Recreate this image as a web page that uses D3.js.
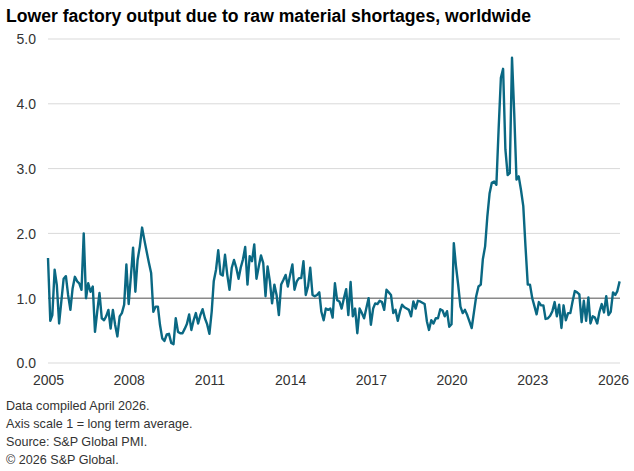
<!DOCTYPE html>
<html>
<head>
<meta charset="utf-8">
<script src="https://cdn.jsdelivr.net/npm/d3@7"></script>
<style>
	body { margin: 0; background: #fff; }
	svg text { font-family: "Liberation Sans", Arial, sans-serif; }
</style>
</head>
<body>
<svg id="chart" width="634" height="471"></svg>
<script>
var title = "Lower factory output due to raw material shortages, worldwide";
var notes = [
	"Data compiled April 2026.",
	"Axis scale 1 = long term average.",
	"Source: S&P Global PMI.",
	"\u00a9 2026 S&P Global."
];
var startYear = 2005;
var yTicks = [0, 1, 2, 3, 4, 5];
var xTickYears = [2005, 2008, 2011, 2014, 2017, 2020, 2023, 2026];

// monthly index, one row per year from Jan 2005
var v2005 = [1.62, 0.65, 0.74, 1.44, 1.2, 0.61, 0.95, 1.3, 1.34, 1.05, 0.82, 1.15];
var v2006 = [1.33, 1.26, 1.23, 1.13, 2.0, 1.0, 1.23, 1.1, 1.18, 0.48, 0.8, 1.08];
var v2007 = [0.69, 0.66, 0.72, 0.82, 0.53, 0.82, 0.59, 0.41, 0.72, 0.77, 0.9, 1.52];
var v2008 = [0.91, 1.35, 1.78, 1.1, 1.59, 1.8, 2.09, 1.9, 1.72, 1.55, 1.39, 0.79];
var v2009 = [0.87, 0.87, 0.59, 0.38, 0.34, 0.44, 0.45, 0.31, 0.29, 0.69, 0.48, 0.46];
var v2010 = [0.46, 0.53, 0.6, 0.75, 0.51, 0.66, 0.77, 0.61, 0.74, 0.83, 0.69, 0.6];
var v2011 = [0.45, 0.79, 1.26, 1.44, 1.74, 1.37, 1.35, 1.67, 1.36, 1.13, 1.47, 1.59];
var v2012 = [1.47, 1.3, 1.47, 1.6, 1.79, 1.21, 1.65, 1.57, 1.83, 1.3, 1.49, 1.66];
var v2013 = [1.54, 1.03, 1.49, 1.26, 0.92, 1.21, 1.05, 0.74, 1.21, 1.28, 1.36, 1.18];
var v2014 = [1.36, 1.52, 1.13, 1.26, 1.31, 1.31, 1.57, 1.05, 1.18, 1.47, 1.05, 1.03];
var v2015 = [1.05, 1.09, 0.79, 0.66, 0.84, 0.82, 0.84, 0.7, 1.23, 0.97, 0.95, 0.84];
var v2016 = [1.0, 1.14, 0.74, 1.25, 0.72, 0.84, 0.46, 0.84, 0.77, 0.69, 0.85, 1.0];
var v2017 = [0.59, 0.84, 0.92, 0.91, 0.96, 0.94, 0.82, 1.13, 1.09, 1.05, 0.77, 0.82];
var v2018 = [0.65, 0.8, 0.9, 0.86, 0.84, 0.82, 0.72, 0.95, 0.84, 0.96, 0.95, 0.93];
var v2019 = [0.91, 0.64, 0.51, 0.66, 0.61, 0.69, 0.69, 0.83, 0.81, 0.72, 0.8, 0.56];
var v2020 = [0.6, 1.85, 1.5, 1.2, 0.87, 0.77, 0.82, 0.74, 0.64, 0.54, 0.79, 1.03];
var v2021 = [1.18, 1.21, 1.6, 1.8, 2.26, 2.62, 2.78, 2.8, 2.75, 3.6, 4.4, 4.54];
var v2022 = [3.3, 2.9, 2.93, 4.71, 3.86, 2.83, 2.88, 2.67, 2.42, 1.8, 1.21, 1.21];
var v2023 = [1.0, 0.87, 0.75, 0.94, 0.89, 0.89, 0.68, 0.69, 0.73, 0.8, 0.94, 0.72];
var v2024 = [0.9, 0.54, 0.89, 0.66, 0.77, 0.77, 0.95, 1.11, 1.09, 1.06, 0.63, 0.96];
var v2025 = [0.65, 1.01, 0.61, 0.72, 0.7, 0.61, 0.79, 0.91, 0.78, 1.03, 0.74, 0.79];
var v2026 = [1.09, 1.05, 1.11, 1.26];

var years = [v2005, v2006, v2007, v2008, v2009, v2010, v2011, v2012, v2013, v2014,
	v2015, v2016, v2017, v2018, v2019, v2020, v2021, v2022, v2023, v2024, v2025, v2026];

var data = [];
years.forEach(function (row, i) {
	row.forEach(function (v, m) {
		data.push({ date: new Date(startYear + i, m, 1), value: v });
	});
});

var svg = d3.select("#chart");
var plotLeft = 48, plotRight = 620, plotTop = 39, plotBottom = 363;

var x = d3.scaleTime()
	.domain([new Date(2005, 0, 1), new Date(2026, 0, 1)])
	.range([48, 613]);
var y = d3.scaleLinear().domain([0, 5]).range([plotBottom, plotTop]);

svg.append("text")
	.attr("x", 6).attr("y", 22)
	.attr("font-size", 17.6).attr("font-weight", "bold")
	.attr("fill", "#000")
	.text(title);

// gridlines
svg.append("g").selectAll("line")
	.data(yTicks)
	.join("line")
	.attr("x1", plotLeft).attr("x2", plotRight)
	.attr("y1", function (d) { return y(d); })
	.attr("y2", function (d) { return y(d); })
	.attr("stroke", function (d) { return d === 1 ? "#8a8a8a" : "#d9d9d9"; })
	.attr("stroke-width", function (d) { return d === 1 ? 1.5 : 1; });

var yAxis = svg.append("g")
	.attr("transform", "translate(36,0)")
	.call(d3.axisLeft(y).tickValues(yTicks).tickSize(0).tickFormat(d3.format(".1f")));
yAxis.select(".domain").remove();
yAxis.selectAll("text")
	.attr("font-size", 14).attr("fill", "#333")
	.attr("x", 0).attr("dy", "0.35em");

var xAxis = svg.append("g")
	.attr("transform", "translate(0," + (plotBottom + 12) + ")")
	.call(d3.axisBottom(x)
		.tickValues(xTickYears.map(function (yr) { return new Date(yr, 0, 1); }))
		.tickSize(0)
		.tickFormat(d3.timeFormat("%Y")));
xAxis.select(".domain").remove();
xAxis.selectAll("text")
	.attr("font-size", 14).attr("fill", "#333")
	.attr("y", 0).attr("dy", "0.71em");

var line = d3.line()
	.x(function (d) { return x(d.date); })
	.y(function (d) { return y(d.value); });

svg.append("path")
	.datum(data)
	.attr("d", line)
	.attr("fill", "none")
	.attr("stroke", "#0a6883")
	.attr("stroke-width", 2.4)
	.attr("stroke-linejoin", "round");

svg.append("g").selectAll("text")
	.data(notes)
	.join("text")
	.attr("x", 6)
	.attr("y", function (d, i) { return 410 + i * 18; })
	.attr("font-size", 12.6).attr("fill", "#333")
	.text(function (d) { return d; });
</script>
</body>
</html>
